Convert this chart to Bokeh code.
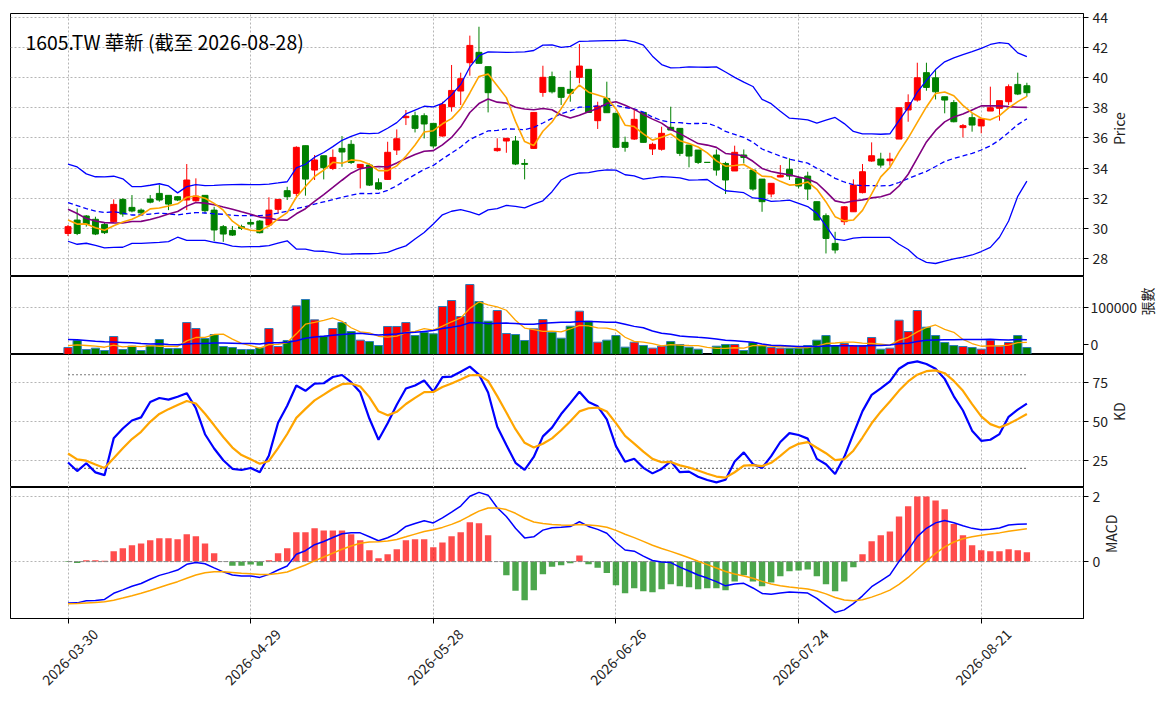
import numpy as np
import pandas as pd
from bokeh.plotting import figure
from bokeh.layouts import column
from bokeh.models import Range1d, FixedTicker, Label, LinearAxis
from bokeh.embed import file_html
from bokeh.resources import INLINE

TITLE = "1605.TW 華新 (截至 2026-08-28)"
START_DATE = "2026-03-30"
END_DATE = "2026-08-28"
HOLIDAYS = ["2026-04-03", "2026-04-06", "2026-05-01", "2026-06-19"]
PANEL_LABELS = ["Price", "張數", "KD", "MACD"]

open_ = [29.66, 30.55, 30.82, 30.60, 30.26, 30.44, 31.92, 31.39, 31.21, 31.94,
         32.32, 32.19, 32.10, 31.88, 31.83, 32.19, 31.21, 30.11, 29.86, 30.11,
         30.39, 30.48, 30.22, 31.26, 32.50, 32.32, 35.49, 33.87, 34.82, 33.98,
         35.31, 35.58, 34.03, 34.20, 33.03, 33.25, 35.20, 37.35, 37.48, 37.48,
         36.97, 36.13, 38.08, 39.12, 41.00, 41.69, 40.74, 35.16, 35.80, 35.80,
         34.31, 35.31, 39.03, 40.07, 39.36, 39.23, 40.03, 40.56, 37.15, 38.63,
         37.64, 35.71, 35.93, 37.70, 35.27, 35.25, 36.71, 36.64, 35.53, 35.20,
         34.38, 34.87, 34.31, 33.81, 34.87, 33.87, 33.27, 32.28, 33.41, 33.92,
         33.32, 33.47, 31.77, 30.84, 29.00, 30.44, 31.10, 32.37, 34.47, 34.60,
         34.49, 35.93, 37.86, 38.52, 40.34, 40.00, 38.74, 38.35, 36.69, 37.35,
         36.80, 37.79, 37.97, 38.41, 39.56, 39.47]
high = [30.22, 31.32, 30.88, 30.77, 30.37, 31.92, 32.00, 32.21, 31.32, 32.21,
        32.87, 32.19, 32.14, 34.27, 33.32, 32.19, 31.43, 30.22, 30.15, 30.24,
        30.61, 30.55, 32.06, 31.92, 32.76, 35.45, 35.49, 34.87, 34.82, 35.24,
        36.13, 35.86, 34.25, 34.31, 33.32, 35.75, 36.57, 37.86, 37.75, 37.64,
        36.97, 38.41, 40.85, 40.34, 42.80, 43.39, 40.74, 35.98, 35.98, 36.13,
        34.60, 37.70, 40.80, 40.41, 39.36, 40.47, 42.24, 40.56, 38.41, 39.74,
        37.64, 36.09, 37.90, 37.70, 35.69, 36.75, 38.08, 36.64, 35.53, 35.20,
        34.38, 35.24, 34.42, 35.49, 35.24, 33.87, 33.27, 32.99, 34.20, 34.65,
        33.47, 33.76, 31.77, 30.99, 29.77, 31.48, 33.25, 34.27, 35.71, 35.02,
        35.02, 38.01, 38.90, 41.00, 41.00, 40.52, 38.74, 38.52, 36.93, 37.64,
        37.35, 39.41, 38.48, 39.56, 40.34, 39.67]
low = [29.49, 29.55, 30.11, 29.55, 29.62, 30.37, 30.77, 31.06, 30.88, 31.66,
       31.77, 31.21, 31.81, 31.21, 31.77, 30.99, 29.15, 29.10, 29.49, 29.89,
       30.11, 29.66, 30.11, 30.99, 31.88, 32.14, 32.17, 33.21, 33.25, 33.87,
       34.09, 34.27, 32.65, 32.81, 32.54, 33.21, 34.87, 36.86, 36.37, 35.97,
       35.31, 36.09, 37.75, 38.19, 40.14, 40.96, 37.70, 35.09, 35.02, 34.20,
       33.25, 35.27, 38.74, 38.96, 38.19, 38.41, 39.63, 37.70, 36.60, 37.68,
       35.38, 35.09, 35.87, 35.71, 34.87, 35.16, 36.53, 34.80, 34.05, 34.27,
       34.38, 33.50, 32.28, 33.81, 34.31, 32.50, 31.10, 32.06, 33.39, 33.21,
       32.65, 31.88, 30.55, 28.33, 28.33, 30.22, 31.10, 32.32, 34.42, 34.03,
       34.16, 35.93, 37.08, 38.41, 39.14, 38.56, 37.64, 37.04, 36.04, 36.42,
       36.31, 37.79, 37.15, 38.19, 38.85, 38.74]
close = [30.11, 29.66, 30.26, 29.62, 29.71, 31.59, 30.95, 31.15, 31.03, 31.74,
         31.88, 31.61, 31.88, 33.21, 32.14, 31.17, 29.89, 29.62, 29.55, 30.00,
         30.28, 29.71, 31.21, 31.92, 32.10, 35.38, 33.27, 34.54, 34.03, 34.71,
         35.07, 34.38, 34.25, 32.87, 32.61, 35.05, 35.95, 37.44, 36.64, 36.93,
         35.47, 38.23, 39.16, 39.94, 42.15, 40.96, 39.01, 35.31, 35.98, 34.27,
         34.25, 37.70, 40.03, 39.07, 38.70, 38.97, 40.78, 37.70, 38.12, 37.68,
         35.38, 35.38, 37.24, 35.71, 35.58, 36.31, 36.53, 34.98, 34.80, 34.38,
         34.38, 33.87, 33.21, 35.05, 34.71, 32.61, 31.77, 32.99, 33.52, 33.47,
         32.81, 32.61, 30.55, 29.33, 28.56, 31.43, 32.87, 33.76, 34.82, 34.20,
         34.60, 38.01, 38.35, 40.00, 39.36, 39.07, 38.52, 37.08, 36.82, 36.86,
         37.26, 38.01, 38.48, 39.41, 38.92, 39.01]
volume = [14900, 29800, 10600, 13500, 8500, 38300, 10600, 17700, 8500, 19100,
          31900, 12800, 12800, 68000, 55300, 34000, 42500, 17000, 14900, 10600,
          10600, 14200, 55300, 17000, 29800, 103500, 117000, 73700, 39000, 55300,
          68000, 48900, 30500, 27600, 19100, 59600, 59600, 68000, 40400, 46800,
          44000, 102100, 114900, 80800, 148900, 112700, 70900, 93600, 44700, 42500,
          29800, 54600, 74400, 47500, 34700, 60300, 92200, 70900, 26200, 30500,
          40400, 15600, 26200, 19100, 13500, 17700, 27600, 21300, 15600, 11300,
          0, 17700, 21300, 21300, 8500, 25500, 19100, 14900, 13500, 13500,
          13500, 19100, 30500, 40400, 19100, 23400, 19100, 19100, 36200, 11300,
          13500, 73000, 48900, 93600, 58100, 40400, 25500, 19100, 17000, 14900,
          11300, 30500, 17700, 25500, 40400, 14900]
macd_hist = [-0.01, -0.04, 0.04, 0.04, 0.03, 0.32, 0.41, 0.50, 0.56, 0.66,
             0.72, 0.72, 0.69, 0.84, 0.78, 0.56, 0.26, 0.0, -0.13, -0.13,
             -0.09, -0.13, 0.04, 0.26, 0.41, 0.90, 0.90, 1.03, 0.96, 0.96,
             0.96, 0.84, 0.66, 0.35, 0.10, 0.23, 0.38, 0.66, 0.69, 0.69,
             0.44, 0.59, 0.78, 0.90, 1.21, 1.18, 0.81, 0.0, -0.42, -0.90,
             -1.19, -0.88, -0.39, -0.16, -0.11, -0.05, 0.19, -0.08, -0.19, -0.35,
             -0.73, -0.97, -0.82, -0.91, -0.94, -0.85, -0.70, -0.76, -0.79, -0.85,
             -0.82, -0.82, -0.88, -0.61, -0.42, -0.61, -0.76, -0.64, -0.45, -0.30,
             -0.27, -0.24, -0.45, -0.70, -0.91, -0.61, -0.17, 0.23, 0.63, 0.81,
             0.93, 1.39, 1.70, 2.0, 2.0, 1.88, 1.61, 1.16, 0.81, 0.50,
             0.35, 0.32, 0.32, 0.38, 0.35, 0.29]

# estimated sessions before the window (only used so the moving averages start where the picture shows)
pre_close = [33.5, 34.2, 33.0, 31.5, 30.8, 32.5, 33.8, 31.0, 30.5, 30.6,
             32.5, 33.6, 31.2, 30.8, 31.8, 31.0, 30.2, 30.9, 30.54]
pre_volume = [42000, 38000, 45000, 30000, 52000, 28000, 35000, 40000, 33000, 31000,
              38000, 29000, 36000, 34000, 31500, 22000, 18000, 21000, 19600]
K_START, D_START = 28.0, 32.4
EMA12_START, EMA26_START, DEA_START = 30.95, 32.25, -1.30
KD_HIGH_LEVEL, KD_LOW_LEVEL = 80, 20
VOL_TICKS = [0, 100000]

dates = [d.strftime("%Y-%m-%d") for d in pd.bdate_range(START_DATE, END_DATE)
         if d.strftime("%Y-%m-%d") not in HOLIDAYS]
n = len(close)
idx = np.arange(n)
tick_idx = list(range(0, n, 20))

c_full = pd.Series(pre_close + close)
ma5 = c_full.rolling(5).mean().to_numpy()[-n:]
ma10 = c_full.rolling(10).mean().to_numpy()[-n:]
ma20 = c_full.rolling(20).mean().to_numpy()[-n:]
sd20 = c_full.rolling(20).std(ddof=0).to_numpy()[-n:]
bb_up = ma20 + 2 * sd20
bb_dn = ma20 - 2 * sd20

v_full = pd.Series(pre_volume + volume, dtype=float)
vma5 = v_full.rolling(5).mean().to_numpy()[-n:]
vma20 = v_full.rolling(20).mean().to_numpy()[-n:]

hh = pd.Series(pre_close + high).rolling(9).max().to_numpy()[-n:]
ll = pd.Series(pre_close + low).rolling(9).min().to_numpy()[-n:]
rsv = (np.array(close) - ll) / (hh - ll) * 100
K, D = [], []
k, d = K_START, D_START
for r in rsv:
    k = 2 / 3 * k + r / 3
    d = 2 / 3 * d + k / 3
    K.append(k)
    D.append(d)

DIF, DEA = [], []
e12, e26, dea = EMA12_START, EMA26_START, DEA_START
for c in close:
    e12 += 2 / 13 * (c - e12)
    e26 += 2 / 27 * (c - e26)
    dif = e12 - e26
    dea += 0.2 * (dif - dea)
    DIF.append(dif)
    DEA.append(dea)

o = np.array(open_)
cl = np.array(close)
up = cl > o
cndl_col = np.where(up, "red", "green")
hist = np.array(macd_hist)
hist_col = np.where(hist >= 0, "red", "green")

FONT = "Noto Sans CJK TC"
TXT = "#222222"
FRAME_W = 1073
LEFT = 10
RIGHT = 87
W = LEFT + FRAME_W + RIGHT
xr = Range1d(-6.3, 111.2)
LABEL_SHIFT = 3          # date labels are centred on their tick (matplotlib style)
ZERO_LABEL_LIFT = 22000  # lift the volume "0" so that it is not cut by the panel edge


def style_axis(ax):
    ax.major_tick_out = 5
    ax.major_tick_in = 0
    ax.minor_tick_line_color = None
    ax.axis_line_color = "black"
    ax.major_label_text_font = FONT
    ax.major_label_text_font_size = "14px"
    ax.major_label_text_color = TXT
    ax.axis_label_text_font = FONT
    ax.axis_label_text_font_size = "14px"
    ax.axis_label_text_font_style = "normal"
    ax.axis_label_text_color = TXT


def make(height, yr, ylabel, top=0, bottom=0):
    p = figure(width=W, height=height, x_range=xr, y_range=yr, output_backend="svg",
               toolbar_location=None, y_axis_location="right",
               min_border_left=LEFT, min_border_right=RIGHT,
               min_border_top=top, min_border_bottom=bottom)
    p.outline_line_color = "black"
    p.outline_line_width = 1
    p.xaxis.ticker = FixedTicker(ticks=tick_idx)
    for g in (p.xgrid, p.ygrid):
        g.grid_line_color = "#b5b5b5"
        g.grid_line_dash = "2 2"
        g.grid_line_width = 1
    style_axis(p.xaxis[0])
    ya = p.yaxis[0]
    style_axis(ya)
    ya.major_label_standoff = 4
    ya.axis_label = ylabel
    ya.axis_label_standoff = 8
    if "axis_label_orientation" in ya.properties():
        ya.axis_label_orientation = np.pi / 2
    return p


# ---- price panel
H1 = 263
p1 = make(H1 + 13, Range1d(26.8, 44.27), PANEL_LABELS[0], top=13)
p1.yaxis.ticker = FixedTicker(ticks=list(range(28, 45, 2)))
p1.segment(idx, low, idx, high, color=cndl_col, line_width=1)
p1.vbar(x=idx, width=0.65, top=np.maximum(o, cl), bottom=np.minimum(o, cl),
        fill_color=cndl_col, line_color=cndl_col, line_width=1)
p1.line(idx, bb_up, color="blue", line_width=1.3)
p1.line(idx, bb_dn, color="blue", line_width=1.3)
p1.line(idx, ma20, color="blue", line_width=1.3, line_dash="5 3")
p1.line(idx, ma10, color="purple", line_width=1.6)
p1.line(idx, ma5, color="orange", line_width=1.6)
p1.add_layout(Label(x=15, y=H1 - 28, x_units="screen", y_units="screen", text=TITLE,
                    text_font=FONT, text_font_size="19.4px", text_color="black",
                    text_baseline="alphabetic"))
p1.xaxis.visible = False

# ---- volume panel
H2 = 78
p2 = make(H2, Range1d(0, 166000), PANEL_LABELS[1])
vol_label_ticks = [VOL_TICKS[0] + ZERO_LABEL_LIFT] + VOL_TICKS[1:]
p2.yaxis.ticker = FixedTicker(ticks=vol_label_ticks)
p2.yaxis.major_label_overrides = {vol_label_ticks[0]: str(VOL_TICKS[0])}
p2.yaxis.formatter.use_scientific = False
p2.yaxis.major_label_standoff = 2
p2.yaxis.axis_label_standoff = 7
p2.ygrid.ticker = FixedTicker(ticks=VOL_TICKS[1:])
p2.vbar(x=idx, width=0.9, top=volume, bottom=0, fill_color=cndl_col,
        line_color="#2b7bba", line_width=1)
p2.line(idx, vma5, color="orange", line_width=1.3)
p2.line(idx, vma20, color="blue", line_width=1.5)
p2.xaxis.visible = False

# ---- KD panel
H3 = 133
p3 = make(H3, Range1d(7.7, 93), PANEL_LABELS[2])
p3.yaxis.ticker = FixedTicker(ticks=[25, 50, 75])
p3.line([idx[0], idx[-1]], [KD_HIGH_LEVEL] * 2, color="#777777", line_dash="2 2", line_width=1.2)
p3.line([idx[0], idx[-1]], [KD_LOW_LEVEL] * 2, color="#777777", line_dash="2 2", line_width=1.2)
p3.line(idx, K, color="blue", line_width=2.2)
p3.line(idx, D, color="orange", line_width=2.2)
p3.xaxis.visible = False

# ---- MACD panel
H4 = 131
p4 = make(H4 + 76, Range1d(-1.75, 2.28), PANEL_LABELS[3], bottom=76)
p4.yaxis.ticker = FixedTicker(ticks=[0, 2])
p4.vbar(x=idx, width=0.7, top=hist, bottom=0, fill_color=hist_col, fill_alpha=0.7, line_color=None)
p4.line([idx[0], idx[-1]], [0, 0], color="#888888", line_dash="4 2", line_width=1)
p4.line(idx, DIF, color="blue", line_width=1.5)
p4.line(idx, DEA, color="orange", line_width=1.5)
main_x = p4.xaxis[0]
main_x.major_label_text_color = None
main_x.major_label_text_font_size = "0px"
main_x.major_label_standoff = 0
lab_ticks = [i + LABEL_SHIFT for i in tick_idx]
lab_axis = LinearAxis(ticker=FixedTicker(ticks=lab_ticks),
                      major_label_overrides={t: dates[i] for t, i in zip(lab_ticks, tick_idx)},
                      major_label_orientation=np.pi / 4)
style_axis(lab_axis)
lab_axis.major_tick_line_color = None
lab_axis.axis_line_color = None
lab_axis.major_tick_out = 0
lab_axis.major_label_standoff = 8
p4.add_layout(lab_axis, "below")

layout = column(p1, p2, p3, p4)
open("out.html", "w").write(file_html(layout, INLINE))
